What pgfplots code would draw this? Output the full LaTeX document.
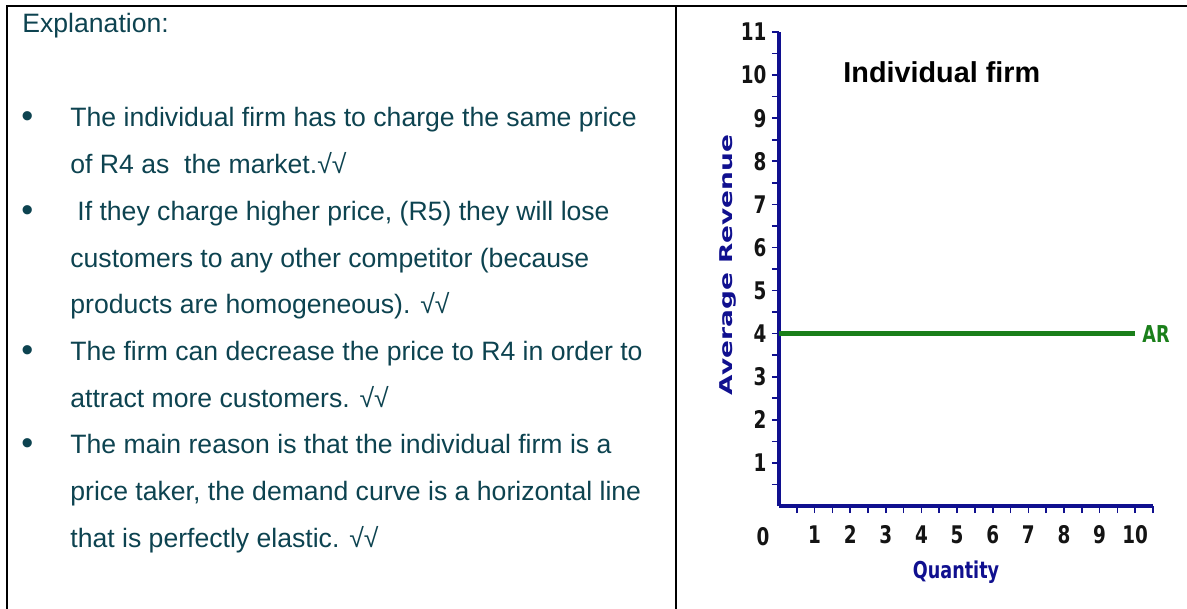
\documentclass[border=0pt]{standalone}
\usepackage{fontspec}
\setmainfont{Liberation Sans}
\newfontfamily\dejavu{DejaVu Sans}
\usepackage{pgfplots}
\pgfplotsset{compat=1.18}
\definecolor{inktext}{HTML}{0D4350}
\definecolor{navy}{HTML}{10108F}
\definecolor{argreen}{HTML}{1A7F1A}
\newcommand\tl[1]{\scalebox{1}[1.32]{#1}}

\begin{document}
\begin{tikzpicture}
\useasboundingbox (0,0) rectangle (593.5pt,-304.5pt);
% table rules
\draw[line width=1.1pt] (3pt,-3.2pt) -- (593.5pt,-3.2pt);
\draw[line width=0.9pt] (3.6pt,-3.2pt) -- (3.6pt,-304.5pt);
\draw[line width=0.9pt] (338pt,-3.2pt) -- (338pt,-304.5pt);

% explanation text
\begin{scope}[every node/.style={anchor=base west, inner sep=0pt, text=inktext,
    font=\fontsize{13.3}{15}\selectfont}]
\node at (11pt,-16.5pt) {Explanation:};
\node[font=\fontsize{17}{18}\selectfont] at (10.5pt,-64pt) {\textbullet};
\node[font=\fontsize{17}{18}\selectfont] at (10.5pt,-110.7pt) {\textbullet};
\node[font=\fontsize{17}{18}\selectfont] at (10.5pt,-180.75pt) {\textbullet};
\node[font=\fontsize{17}{18}\selectfont] at (10.5pt,-227.45pt) {\textbullet};
\node at (35pt,-63.5pt)   {The individual firm has to charge the same price};
\node at (35pt,-86.85pt)  {of R4 as\ \ the market.√√};
\node at (38.5pt,-110.2pt){If they charge higher price, (R5) they will lose};
\node at (35pt,-133.55pt) {customers to any other competitor (because};
\node at (35pt,-156.9pt)  {products are homogeneous). √√};
\node at (35pt,-180.25pt) {The firm can decrease the price to R4 in order to};
\node at (35pt,-203.6pt)  {attract more customers. √√};
\node at (35pt,-226.95pt) {The main reason is that the individual firm is a};
\node at (35pt,-250.3pt)  {price taker, the demand curve is a horizontal line};
\node at (35pt,-273.65pt) {that is perfectly elastic. √√};
\end{scope}

\begin{axis}[
  at={(389.5pt,-253pt)}, anchor=origin,
  width=187pt, height=237pt, scale only axis,
  xmin=0, xmax=10.5, ymin=0, ymax=11,
  axis x line*=bottom, axis y line*=left,
  axis line style={navy, line width=1.8pt, -},
  tick align=outside, major tick length=3.6pt,
  tick style={navy, line width=0.8pt},
  xtick={0.5,1,...,10.5},
  xticklabels={{},\tl{1},{},\tl{2},{},\tl{3},{},\tl{4},{},\tl{5},{},\tl{6},{},\tl{7},{},\tl{8},{},\tl{9},{},\tl{10},{}},
  ytick={0.5,1,...,11},
  yticklabels={{},\tl{1},{},\tl{2},{},\tl{3},{},\tl{4},{},\tl{5},{},\tl{6},{},\tl{7},{},\tl{8},{},\tl{9},{},\tl{10},{},\tl{11}},
  extra x ticks={0}, extra x tick labels={\tl{0}},
  extra x tick style={major tick length=0pt, xticklabel style={xshift=-8pt, yshift=-4.5pt}},
  ticklabel style={font=\dejavu\bfseries\fontsize{9.2}{10}\selectfont, text=black!92, inner sep=0pt},
  xticklabel style={anchor=north, yshift=-6pt},
  yticklabel style={anchor=east, xshift=-2.5pt},
  clip=false,
]
\addplot[argreen, line width=2.4pt] coordinates {(0,4) (10,4)};
\end{axis}

\node[anchor=base west, inner sep=0pt, font=\bfseries\fontsize{14.4}{16}\selectfont]
  at (421.5pt,-41.5pt) {Individual firm};
\node[rotate=90, inner sep=0pt, text=navy, font=\dejavu\bfseries\fontsize{8.8}{10}\selectfont]
  at (364pt,-132.5pt) {\scalebox{1.5}[1]{Average Revenue}};
\node[inner sep=0pt, text=navy, font=\dejavu\bfseries\fontsize{8.8}{10}\selectfont]
  at (478pt,-286pt) {\tl{Quantity}};
\node[anchor=west, inner sep=0pt, text=argreen, font=\dejavu\bfseries\fontsize{8.8}{10}\selectfont]
  at (571pt,-167pt) {\tl{AR}};
\end{tikzpicture}
\end{document}
